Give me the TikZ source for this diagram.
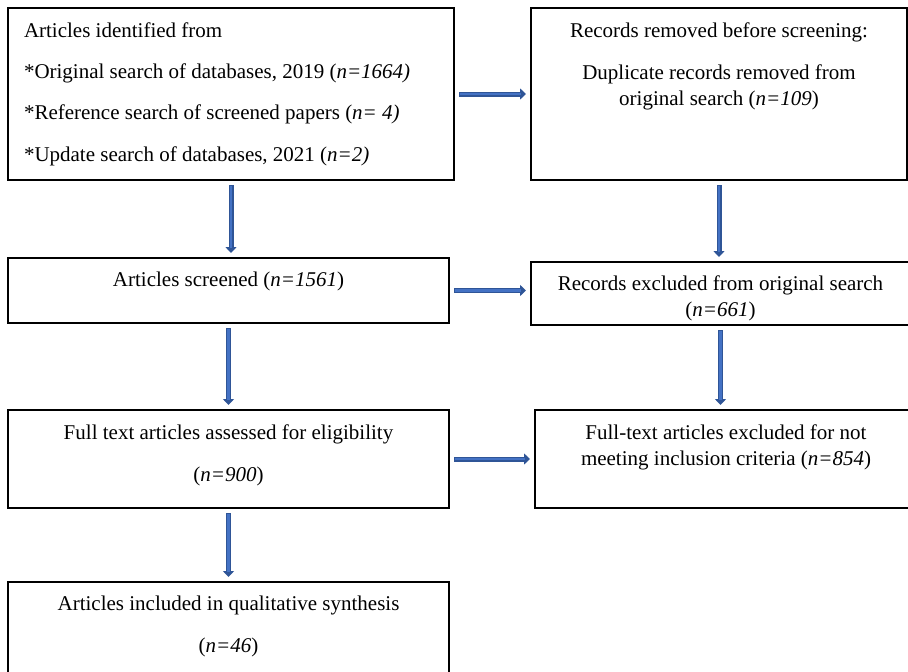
\documentclass[tikz,border=0pt]{standalone}
\usepackage{fontspec}
\setmainfont{Liberation Serif}
\usepackage{tikz}
\usetikzlibrary{arrows.meta,positioning}
\usepackage{xcolor}
\definecolor{arrowfill}{HTML}{4472C4}
\definecolor{arrowedge}{HTML}{2F5597}

\begin{document}
\begin{tikzpicture}[x=1pt, y=-1pt,
  every node/.style={font=\fontsize{21}{26}\selectfont},
  flowbox/.style={draw, line width=1.6pt, inner sep=0pt, outer sep=0pt},
  flowtext/.style={inner sep=0pt, outer sep=0pt, align=center},
  flowarrow/.style={draw=arrowedge, line width=5pt,
    -{Triangle[length=6pt,width=11pt]}, shorten <=5pt, shorten >=5pt,
    postaction={draw=arrowfill, line width=2.4pt, -, shorten <=5.8pt, shorten >=10pt}}]

\useasboundingbox (0,0) rectangle (908,672);

% Boxes: centres and sizes taken from the layout (1pt = 1px)
\node[flowbox, minimum width=446pt, minimum height=172pt] (ident)    at (231,94)      {};
\node[flowbox, minimum width=376pt, minimum height=172pt] (removed)  at (719,94)      {};
\node[flowbox, minimum width=441pt, minimum height=65pt]  (screened) at (228.5,290.5) {};
\node[flowbox, minimum width=379pt, minimum height=63pt]  (excluded) at (720.5,293.5) {};
\node[flowbox, minimum width=441pt, minimum height=98pt]  (fulltext) at (228.5,459)   {};
\node[flowbox, minimum width=382pt, minimum height=98pt]  (notmet)   at (726,459)     {};
\node[flowbox, minimum width=441pt, minimum height=118pt] (included) at (228.5,641)   {};

% --- Box texts (top aligned) ---
\node[flowtext, align=left, below right=14.5pt and 16pt of ident.north west] (identtxt)
  {Articles identified from\\[15.3pt]
   *Original search of databases, 2019 (\textit{n=1664)}\\[15.3pt]
   *Reference search of screened papers (\textit{n= 4)}\\[15.3pt]
   *Update search of databases, 2021 (\textit{n=2)}};
\node[flowtext, below=14.5pt of removed.north] (removedtxt)
  {Records removed before screening:\\[16pt]
   Duplicate records removed from\\
   original search (\textit{n=109})};
\node[flowtext, below=13.5pt of screened.north] (screenedtxt)
  {Articles screened (\textit{n=1561})};
\node[flowtext, below=13.5pt of excluded.north] (excludedtxt)
  {Records excluded from original search\\
   (\textit{n=661})};
\node[flowtext, below=14.5pt of fulltext.north] (fulltexttxt)
  {Full text articles assessed for eligibility\\[16pt]
   (\textit{n=900})};
\node[flowtext, below=14.5pt of notmet.north] (notmettxt)
  {Full-text articles excluded for not\\
   meeting inclusion criteria (\textit{n=854})};
\node[flowtext, below=13.5pt of included.north] (includedtxt)
  {Articles included in qualitative synthesis\\[16pt]
   (\textit{n=46})};

% --- Block arrows ---
\draw[flowarrow] (ident) -- (removed);
\draw[flowarrow] (screened.east) -- (screened.east -| excluded.west);
\draw[flowarrow] (fulltext) -- (notmet);
\draw[flowarrow] (ident.south) -- (ident.south |- screened.north);
\draw[flowarrow] (removed.south) -- (removed.south |- excluded.north);
\draw[flowarrow] (screened) -- (fulltext);
\draw[flowarrow] (excluded.south) -- (excluded.south |- notmet.north);
\draw[flowarrow] (fulltext) -- (included);

\end{tikzpicture}
\end{document}
